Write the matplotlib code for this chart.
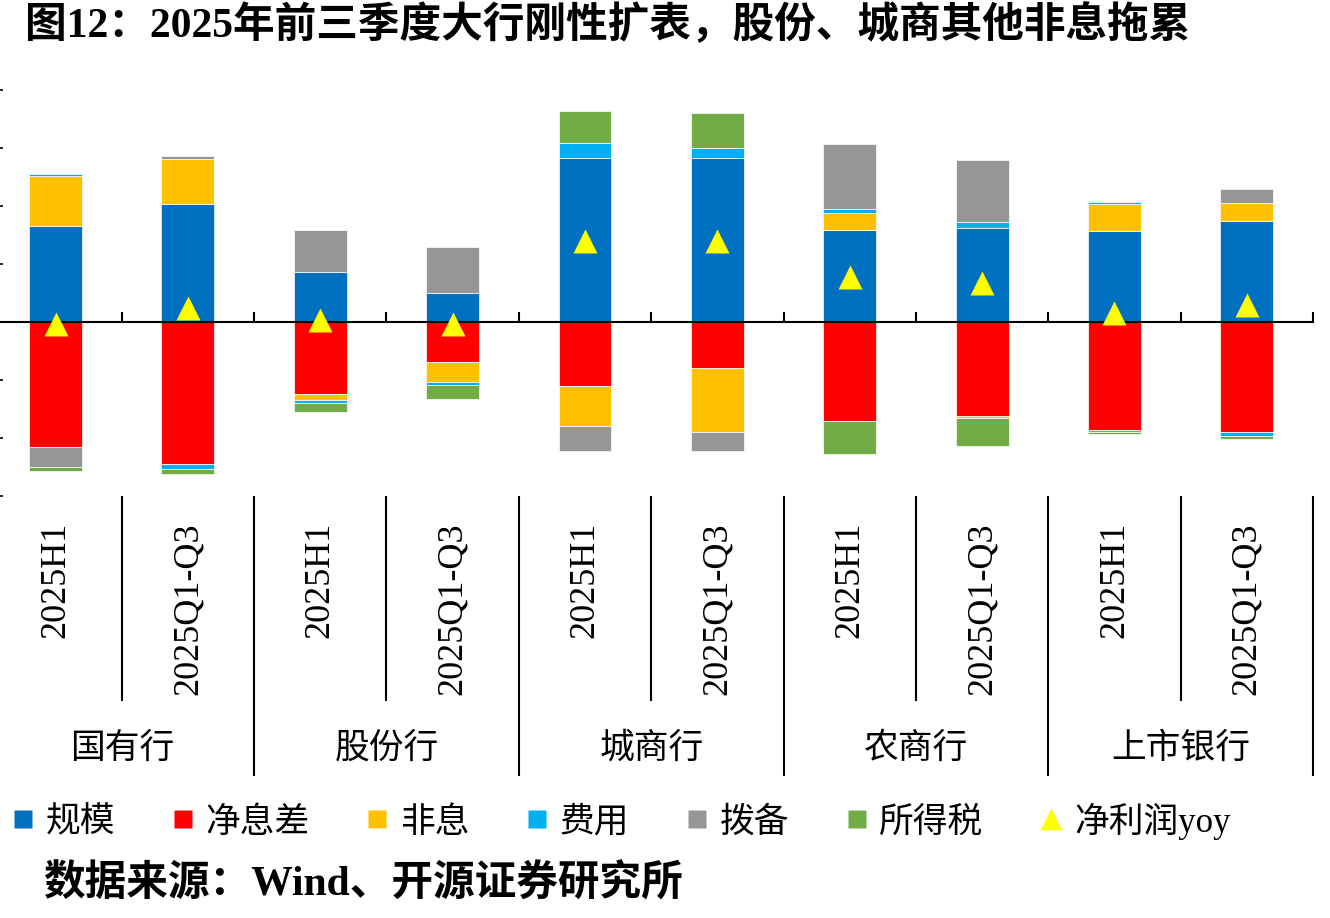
import numpy as np
import matplotlib.pyplot as plt
from matplotlib.lines import Line2D
import matplotlib.transforms as mtrans

plt.rcParams['font.family'] = ['Liberation Serif', 'Noto Sans CJK SC', 'DejaVu Sans']

periods = ['2025H1', '2025Q1-Q3'] * 5
groups = ['国有行', '股份行', '城商行', '农商行', '上市银行']

# contributions (pct)
scale = [8.3, 10.17, 4.31, 2.5, 14.17, 14.17, 7.93, 8.13, 7.84, 8.7]
nim = [-10.8, -12.24, -6.2, -3.48, -5.52, -3.97, -8.53, -8.07, -9.34, -9.5]
nonint = [4.3, 3.85, -0.49, -1.7, -3.42, -5.55, 1.47, -0.17, 2.36, 1.58]
cost = [0.15, -0.43, -0.29, -0.29, 1.24, 0.86, 0.37, 0.49, 0.11, -0.29]
prov = [-1.7, 0.29, 3.62, 3.97, -2.21, -1.58, 5.55, 5.34, -0.15, 1.21]
tax = [-0.35, -0.4, -0.78, -1.18, 2.76, 3.02, -2.84, -2.41, -0.15, -0.29]
yoy = [-0.2, 1.23, 0.2, -0.2, 7.01, 7.0, 3.91, 3.33, 0.74, 1.5]

names = ['规模', '净息差', '非息', '费用', '拨备', '所得税']
colors = ['#0070C0', '#FF0000', '#FFC000', '#00B0F0', '#969696', '#70AD47']
series = [scale, nim, nonint, cost, prov, tax]

W, H = 1330, 918
fig = plt.figure(figsize=(W / 100, H / 100), dpi=100)
ax = fig.add_axes([0, 1 - 496 / H, 1313 / W, (496 - 90) / H])

x = np.arange(len(periods))
pos_b = np.zeros(len(x))
neg_b = np.zeros(len(x))
for vals, c in zip(series, colors):
    v = np.array(vals)
    b = np.where(v >= 0, pos_b, neg_b)
    ax.bar(x, v, 0.4, bottom=b, color=c, edgecolor='white', linewidth=0.5, zorder=2)
    pos_b = pos_b + np.where(v >= 0, v, 0)
    neg_b = neg_b + np.where(v < 0, v, 0)

ax.plot(x, yoy, ls='none', marker='^', ms=17.5, color='#FFFF00', mec='none', zorder=4)

ax.set_xlim(-0.42, 9.5)
ax.set_ylim(-15, 20)
ax.set_yticks(np.arange(-15, 21, 5))
ax.set_yticklabels([])
ax.tick_params(axis='y', direction='in', length=2.5, width=1.2, color='black')
for s in ['left', 'right', 'top']:
    ax.spines[s].set_visible(False)
ax.spines['bottom'].set_position(('data', 0))
ax.spines['bottom'].set_linewidth(1.5)
ax.spines['bottom'].set_zorder(3)
ax.set_xticks(np.arange(0.5, 10, 1))
ax.set_xticklabels([])
ax.tick_params(axis='x', direction='in', length=7, width=1.5)

tr = mtrans.blended_transform_factory(ax.transData, fig.transFigure)
for i, p in enumerate(periods):
    ax.text(i, 1 - 522 / H, p, rotation=90, ha='center', va='top', fontsize=26,
            transform=tr, clip_on=False)
for g, name in enumerate(groups):
    ax.text(2 * g + 0.5, 1 - 749 / H, name, ha='center', va='center', fontsize=25,
            transform=tr, clip_on=False)
for b in np.arange(0.5, 10, 1):
    bottom = 775 if int(b) % 2 == 1 else 700
    ax.add_line(Line2D([b, b], [1 - 497 / H, 1 - bottom / H], color='black', lw=1.5,
                       transform=tr, clip_on=False))

handles = [Line2D([], [], ls='none', marker='s', ms=12.5, color=c, mec='none') for c in colors]
handles.append(Line2D([], [], ls='none', marker='^', ms=16, color='#FFFF00', mec='none'))
labels = names + ['净利润yoy']
fig.legend(handles, labels, loc='center left', bbox_to_anchor=(11 / W, 1 - 821 / H),
           ncol=7, frameon=False, fontsize=25, handlelength=0.7, handletextpad=0.3,
           columnspacing=1.6, borderpad=0, borderaxespad=0)

fig.text(25 / W, 1 - 25 / H, '图12：2025年前三季度大行刚性扩表，股份、城商其他非息拖累',
         fontsize=30, fontweight='bold', ha='left', va='center')
fig.text(43 / W, 1 - 884 / H, '数据来源：Wind、开源证券研究所',
         fontsize=30, fontweight='bold', ha='left', va='center')

fig.savefig('out.png', dpi=100)
